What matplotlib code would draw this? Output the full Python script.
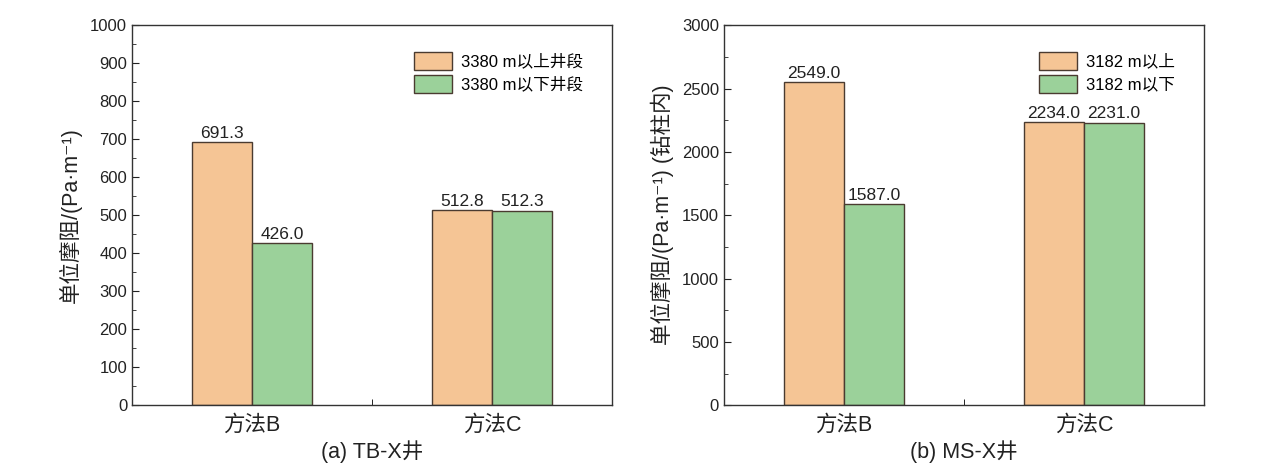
import matplotlib
matplotlib.use('Agg')
import matplotlib.pyplot as plt
import numpy as np
from matplotlib.ticker import MultipleLocator

plt.rcParams['font.family'] = ['Liberation Sans', 'Noto Sans CJK SC', 'DejaVu Sans']

# data
methods = ['方法B', '方法C']
tb_upper = [691.3, 512.8]
tb_lower = [426.0, 512.3]
ms_upper = [2549.0, 2234.0]
ms_lower = [1587.0, 2231.0]
tb_legend = ['3380 m以上井段', '3380 m以下井段']
ms_legend = ['3182 m以上', '3182 m以下']

orange = '#F5C595'
green = '#9BD19A'
edge = '#4a3b30'
txt = '#222222'


def draw_panel(ax, upper, lower, labels, ymax, major, ylabel, title):
    x = np.arange(1, len(methods) + 1)
    w = 0.25
    b1 = ax.bar(x - w / 2, upper, w, color=orange, edgecolor=edge, linewidth=1, label=labels[0])
    b2 = ax.bar(x + w / 2, lower, w, color=green, edgecolor=edge, linewidth=1, label=labels[1])
    for bars in (b1, b2):
        ax.bar_label(bars, fmt='%.1f', padding=1, fontsize=12.5, color=txt)

    ax.set_xlim(0.5, 2.5)
    ax.set_ylim(0, ymax)
    ax.set_xticks(x)
    ax.set_xticklabels(methods, fontsize=15.5)
    ax.set_xticks([1.5], minor=True)
    ax.yaxis.set_major_locator(MultipleLocator(major))
    ax.yaxis.set_minor_locator(MultipleLocator(major / 2))
    ax.tick_params(axis='y', which='both', direction='in', labelsize=12, colors=txt)
    ax.tick_params(axis='y', which='major', length=5)
    ax.tick_params(axis='y', which='minor', length=3)
    ax.tick_params(axis='x', which='major', length=0, pad=7, colors=txt)
    ax.tick_params(axis='x', which='minor', direction='in', length=4)
    ax.set_ylabel(ylabel, fontsize=15.5, color=txt, labelpad=6)
    ax.set_xlabel(title, fontsize=15.5, color=txt, labelpad=3)
    for s in ax.spines.values():
        s.set_color('#333333')
        s.set_linewidth(1)
    ax.legend(loc='upper right', bbox_to_anchor=(0.97, 0.97), frameon=False,
              fontsize=12, handlelength=2.3, handleheight=1.3, handletextpad=0.5,
              labelspacing=0.3)


fig = plt.figure(figsize=(12.7, 4.75), dpi=100)
ax1 = fig.add_axes([0.104, 0.147, 0.378, 0.800])
ax2 = fig.add_axes([0.570, 0.147, 0.378, 0.800])

draw_panel(ax1, tb_upper, tb_lower, tb_legend, 1000, 100,
           '单位摩阻/(Pa·m⁻¹)', '(a) TB-X井')
draw_panel(ax2, ms_upper, ms_lower, ms_legend, 3000, 500,
           '单位摩阻/(Pa·m⁻¹) (钻柱内)', '(b) MS-X井')

fig.savefig('out.png', dpi=100)
